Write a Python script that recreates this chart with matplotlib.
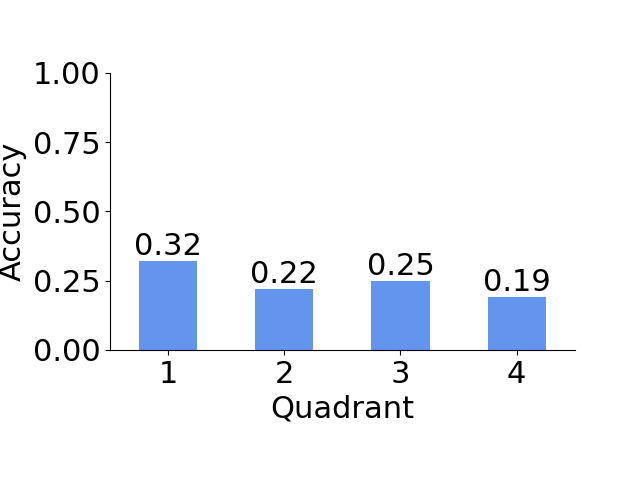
import matplotlib

matplotlib.use("Agg")
import matplotlib.pyplot as plt

quadrants = [1, 2, 3, 4]
accuracy = [0.32, 0.22, 0.25, 0.19]

fig = plt.figure(figsize=(6.4, 4.8), dpi=100)
ax = fig.add_axes([0.172, 0.271, 0.726, 0.577])
bars = ax.bar(quadrants, accuracy, width=0.5, color="cornflowerblue")
for b, v in zip(bars, accuracy):
    ax.text(b.get_x() + b.get_width() / 2, v, f"{v:.2f}",
            ha="center", va="bottom", fontsize=22)

ax.set_xlim(0.5, 4.5)
ax.set_ylim(0, 1)
ax.set_xticks(quadrants)
ax.set_yticks([0, 0.25, 0.5, 0.75, 1.0])
ax.tick_params(labelsize=22)
ax.set_xlabel("Quadrant", fontsize=22)
ax.set_ylabel("Accuracy", fontsize=22)
ax.spines["top"].set_visible(False)
ax.spines["right"].set_visible(False)

fig.savefig("out.png", dpi=100)
